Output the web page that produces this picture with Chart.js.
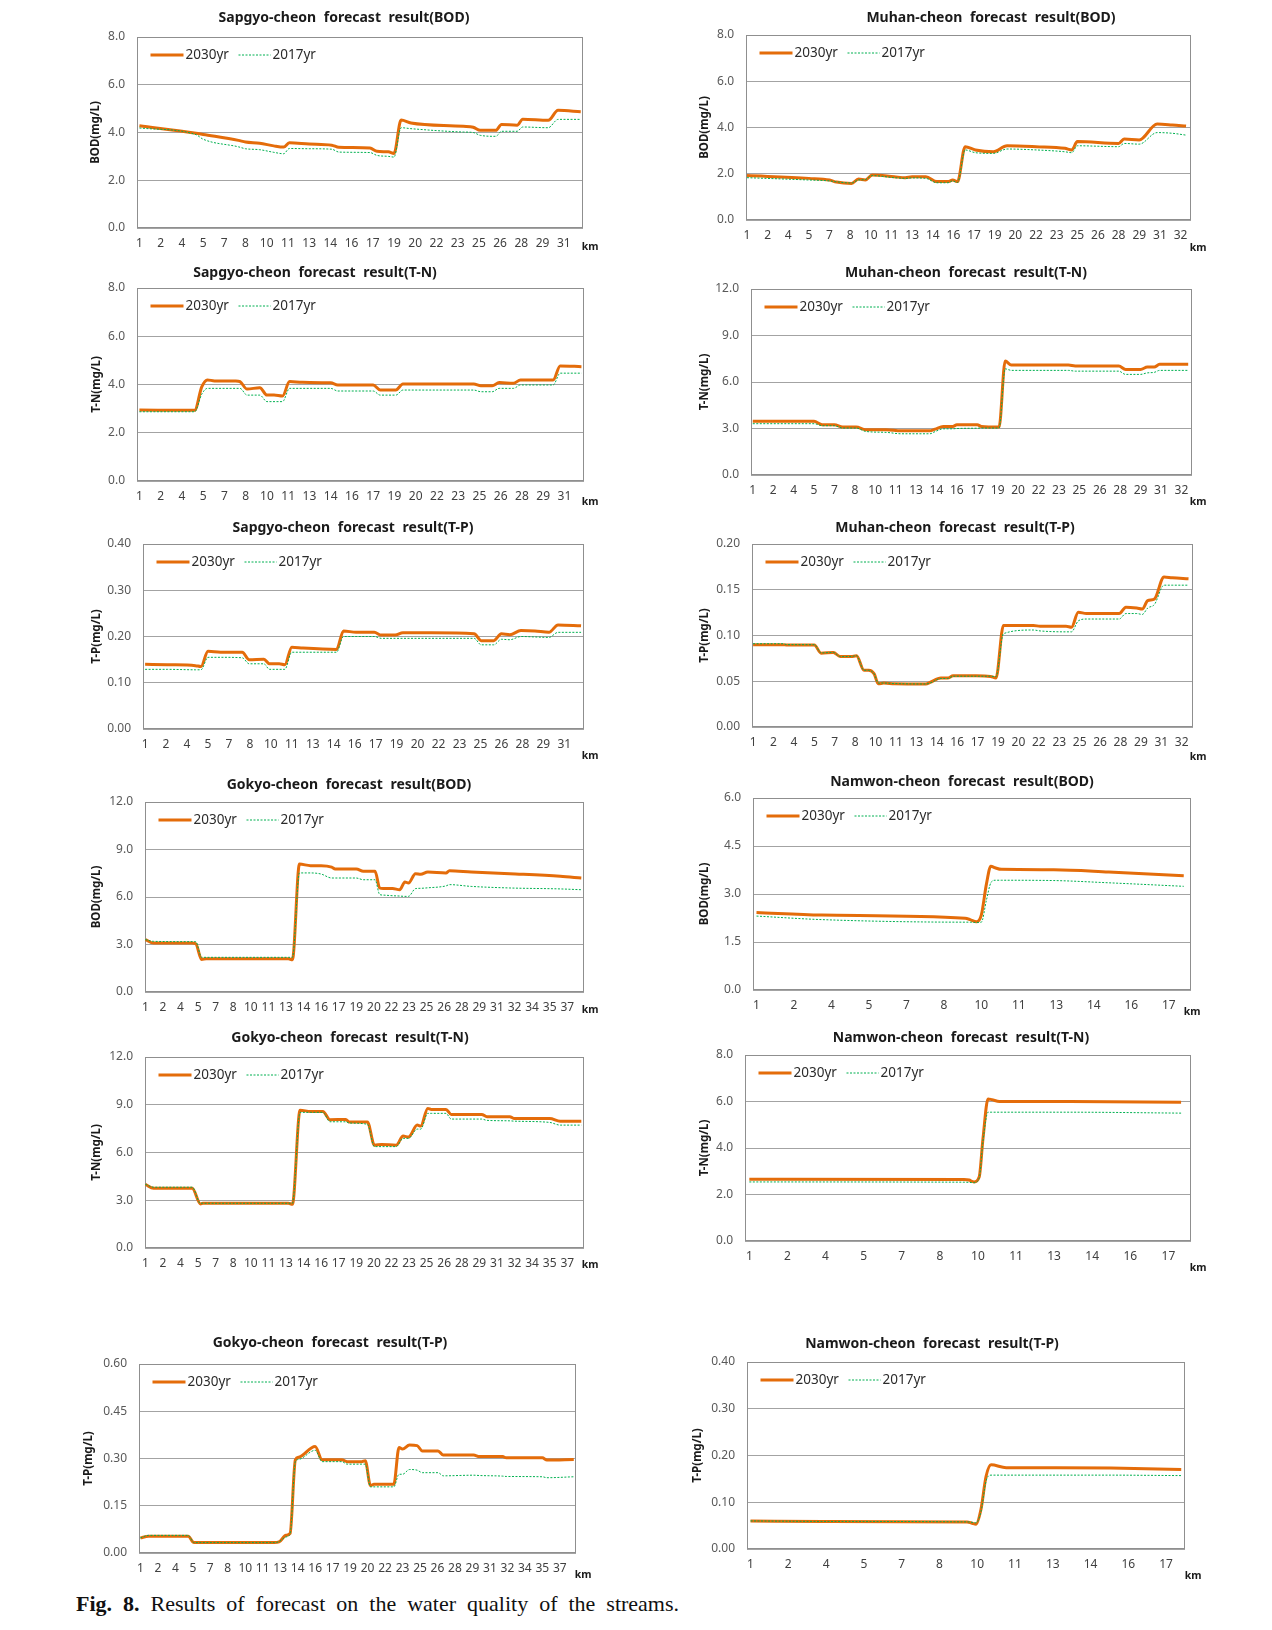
<!DOCTYPE html>
<html><head><meta charset="utf-8">
<script src="https://cdn.jsdelivr.net/npm/chart.js@4.4.0/dist/chart.umd.min.js"></script>
<style>
html,body{margin:0;padding:0;background:#fff;}
#page{position:relative;width:1272px;height:1630px;overflow:hidden;background:#fff;}
#page canvas{position:absolute;}
#caption{position:absolute;left:76px;top:1592px;line-height:24px;font-family:"Liberation Serif","Times New Roman",serif;font-size:22px;color:#111;white-space:nowrap;}
</style></head>
<body><div id="page"><div id="caption"><b>Fig. 8.</b> Results of forecast on the water quality of the streams.</div></div>
<script>
// ---------- tick labels (km) ----------
const xTicksSapgyo = ['1','2','4','5','7','8','10','11','13','14','16','17','19','20','22','23','25','26','28','29','31'];
const xTicksMuhan  = ['1','2','4','5','7','8','10','11','13','14','16','17','19','20','22','23','25','26','28','29','31','32'];
const xTicksGokyo  = ['1','2','4','5','7','8','10','11','13','14','16','17','19','20','22','23','25','26','28','29','31','32','34','35','37'];
const xTicksNamwon = ['1','2','4','5','7','8','10','11','13','14','16','17'];
const seriesNames = ['2030yr','2017yr'];

// ---------- Sapgyo-cheon ----------
const sapBodKm   = [1,5,5.5,8,8.5,9.5,10.5,11.2,11.6,13,14.6,15.1,17.3,17.8,18.6,19,19.5,20.2,23.9,24.6,25.1,26.2,26.6,27.7,28.1,29.9,30.6,32.2];
const sapBod2030 = [4.28,3.97,3.92,3.67,3.60,3.55,3.44,3.39,3.57,3.52,3.47,3.38,3.35,3.21,3.19,3.12,4.52,4.40,4.26,4.22,4.09,4.09,4.34,4.30,4.56,4.51,4.93,4.87];
const sapBod2017 = [4.19,3.91,3.72,3.40,3.32,3.28,3.17,3.11,3.33,3.32,3.30,3.18,3.16,3.04,3.00,2.97,4.20,4.16,4.02,4.00,3.88,3.84,4.05,4.05,4.23,4.20,4.55,4.55];

const sapTnKm    = [1,4.9,5.4,5.8,6.3,7.8,8.1,8.6,9.5,10.0,10.5,11.1,11.6,12.5,14.5,15.0,17.5,18.0,19.1,19.6,24.6,25.1,25.9,26.4,27.4,27.9,30.2,30.7,32.2];
const sapTn2030  = [2.94,2.93,3.9,4.19,4.15,4.15,4.12,3.81,3.87,3.56,3.56,3.52,4.12,4.09,4.07,3.98,3.98,3.77,3.77,4.02,4.02,3.95,3.95,4.08,4.05,4.19,4.19,4.77,4.74];
const sapTn2017  = [2.87,2.87,3.6,3.84,3.84,3.84,3.84,3.56,3.56,3.29,3.29,3.29,3.84,3.84,3.84,3.73,3.73,3.56,3.56,3.77,3.77,3.70,3.70,3.84,3.84,3.98,3.98,4.47,4.47];

const sapTpKm    = [1,2.6,4.6,5.0,5.5,6.4,7.95,8.45,9.5,9.9,10.6,11.0,11.5,12.3,14.7,15.2,16.1,17.4,17.9,18.9,19.45,21.5,24.55,25.05,25.95,26.5,27.1,27.9,28.9,29.9,30.55,32.2];
const sapTp2030  = [.140,.139,.137,.135,.168,.166,.166,.150,.151,.141,.141,.139,.177,.175,.172,.212,.209,.209,.203,.203,.208,.208,.206,.191,.191,.206,.204,.213,.212,.209,.225,.223];
const sapTp2017  = [.129,.129,.128,.128,.155,.155,.154,.141,.141,.129,.129,.129,.166,.166,.166,.200,.200,.200,.196,.196,.196,.196,.196,.182,.182,.194,.193,.200,.199,.198,.209,.209];

// ---------- Muhan-cheon ----------
const muhBodKm   = [1,5.5,7,7.5,8.6,9.1,9.6,10.1,11.7,12.5,13,14,14.8,15.6,15.95,16.3,16.85,17.6,18.9,19.9,22,24.1,24.6,25,28,28.4,29.5,30.8,31.9,32.9];
const muhBod2030 = [1.92,1.80,1.73,1.64,1.58,1.77,1.73,1.95,1.87,1.83,1.87,1.87,1.66,1.66,1.73,1.66,3.17,3.03,2.95,3.21,3.17,3.10,3.03,3.39,3.31,3.50,3.46,4.15,4.11,4.06];
const muhBod2017 = [1.83,1.73,1.69,1.65,1.60,1.73,1.75,1.92,1.83,1.80,1.82,1.80,1.61,1.61,1.69,1.62,3.03,2.91,2.88,3.07,3.03,2.95,2.91,3.21,3.17,3.31,3.28,3.78,3.75,3.67];

const muhTnKm    = [1,5.5,6.1,7.0,7.6,8.6,9.3,10.8,11.9,14.0,14.4,15.0,15.7,16.0,17.5,17.8,19.1,19.55,20.0,24.2,24.7,27.9,28.4,29.5,30.0,30.5,30.9,33];
const muhTn2030  = [3.46,3.46,3.24,3.24,3.09,3.09,2.92,2.92,2.85,2.85,2.96,3.13,3.13,3.24,3.24,3.13,3.09,7.35,7.09,7.09,7.03,7.03,6.81,6.81,6.96,6.96,7.14,7.14];
const muhTn2017  = [3.31,3.31,3.18,3.18,3.03,3.03,2.81,2.75,2.66,2.66,2.80,2.98,2.98,3.00,3.02,3.03,3.03,6.85,6.75,6.75,6.70,6.70,6.49,6.49,6.59,6.62,6.75,6.75];

const muhTpKm    = [1,3.2,3.5,5.5,6.0,6.9,7.4,8.2,8.6,9.15,9.5,9.9,10.2,10.6,11.4,13.7,14.0,14.8,15.3,15.7,17.4,18.45,18.85,19.4,21.6,22.1,24.0,24.4,24.9,25.5,27.9,28.4,29.2,29.6,30.0,30.5,31.2,31.8,33];
const muhTp2030  = [.090,.090,.0895,.0895,.0807,.0815,.077,.077,.0778,.062,.062,.058,.0473,.048,.0473,.047,.0487,.0535,.0535,.056,.056,.0553,.0535,.111,.111,.110,.110,.109,.1255,.124,.124,.131,.130,.129,.138,.140,.164,.163,.162];
const muhTp2017  = [.091,.091,.090,.090,.081,.0815,.077,.077,.078,.062,.062,.058,.048,.048,.0475,.047,.048,.053,.053,.0555,.0555,.0555,.055,.102,.106,.105,.104,.104,.116,.118,.118,.124,.124,.123,.130,.134,.155,.155,.155];

// ---------- Gokyo-cheon ----------
const gokBodKm   = [1,1.7,5.0,5.3,5.8,6.2,13.2,13.55,14.15,15.1,16.0,16.9,17.2,19.0,19.6,20.6,21.0,21.3,22.1,22.7,23.15,23.45,24.05,24.5,25.1,26.65,26.95,28.8,32.1,36.4,38.2];
const gokBod2030 = [3.31,3.09,3.09,3.05,2.06,2.1,2.1,2.04,8.08,7.98,7.98,7.89,7.77,7.77,7.62,7.62,6.57,6.53,6.53,6.46,6.95,6.88,7.47,7.43,7.58,7.52,7.66,7.58,7.47,7.31,7.2];
const gokBod2017 = [3.31,3.2,3.18,3.18,2.19,2.19,2.19,2.19,7.52,7.52,7.45,7.2,7.2,7.2,7.09,7.09,6.15,6.12,6.08,6.06,6.04,6.04,6.53,6.55,6.58,6.7,6.78,6.67,6.57,6.51,6.46];

const gokTnKm    = [1,1.7,5.0,5.7,5.9,13.2,13.55,14.2,15.1,16.15,16.75,18.1,18.4,19.95,20.55,21.15,22.4,23.0,23.45,24.2,24.5,25.1,25.4,26.65,27.1,29.7,30.15,32.1,32.45,35.5,36.4,38.2];
const gokTn2030  = [4.0,3.75,3.75,2.77,2.81,2.81,2.75,8.65,8.58,8.58,8.06,8.08,7.92,7.92,6.46,6.5,6.46,7.03,6.97,7.72,7.66,8.77,8.7,8.7,8.39,8.39,8.25,8.25,8.14,8.14,7.97,7.97];
const gokTn2017  = [4.0,3.82,3.82,2.81,2.81,2.81,2.81,8.52,8.52,8.52,7.93,7.93,7.85,7.77,6.37,6.37,6.37,6.89,6.89,7.47,7.47,8.46,8.46,8.46,8.1,8.1,8.02,7.99,7.97,7.89,7.72,7.72];

const gokTpKm    = [1,1.7,5.1,5.6,12.5,12.9,13.5,13.85,14.3,14.6,16.0,16.6,18.3,18.75,20.0,20.3,20.75,21.05,22.75,23.2,23.5,24.1,24.75,25.2,26.55,27.0,29.6,30.1,32.1,32.4,35.5,35.9,38.2];
const gokTp2030  = [.048,.053,.053,.033,.033,.035,.056,.062,.296,.304,.338,.296,.296,.290,.290,.293,.214,.218,.218,.335,.330,.343,.341,.324,.324,.311,.311,.306,.306,.302,.302,.295,.297];
const gokTp2017  = [.048,.056,.056,.033,.033,.036,.051,.060,.290,.297,.326,.290,.290,.282,.282,.282,.210,.210,.210,.250,.250,.265,.263,.255,.255,.245,.247,.246,.244,.243,.242,.239,.242];

// ---------- Namwon-cheon ----------
const namBodKm   = [1,3.6,9.35,9.55,9.8,10.0,10.2,10.38,10.55,10.8,12.9,15.1,18.1];
const namBod2030 = [2.42,2.34,2.24,2.20,2.13,2.35,3.3,3.87,3.82,3.77,3.76,3.69,3.57];
const namBod2017 = [2.31,2.20,2.12,2.12,2.11,2.12,2.8,3.35,3.43,3.43,3.42,3.35,3.24];

const namTnKm    = [1,9.45,9.65,9.85,10.05,10.2,10.4,10.55,10.85,13.6,18.0];
const namTn2030  = [2.66,2.64,2.62,2.54,2.75,4.4,6.11,6.08,6.0,6.0,5.97];
const namTn2017  = [2.54,2.53,2.52,2.51,2.7,4.3,5.54,5.54,5.54,5.54,5.5];

const namTpKm    = [1,3.9,9.6,9.8,9.95,10.15,10.35,10.55,11.15,13.15,15.3,18.1];
const namTp2030  = [.060,.059,.058,.055,.053,.085,.155,.180,.174,.174,.173,.170];
const namTp2017  = [.060,.059,.058,.057,.056,.080,.145,.158,.158,.158,.158,.157];

// ---------- panel definitions (layout only) ----------
const panels = [
 {title:'Sapgyo-cheon forecast result(BOD)', yTitle:'BOD(mg/L)', km:sapBodKm, a:sapBod2030, b:sapBod2017, xl:xTicksSapgyo, xMin:0.83, xMax:32.36, yMax:8, yStep:2, dec:1, r:[137,583,37,228], tx:344, ty:18, yx:96, kdx:7, kdy:19},
 {title:'Muhan-cheon forecast result(BOD)', yTitle:'BOD(mg/L)', km:muhBodKm, a:muhBod2030, b:muhBod2017, xl:xTicksMuhan, xMin:0.93, xMax:33.26, yMax:8, yStep:2, dec:1, r:[746,1191,35,220], tx:991, ty:18, yx:705, kdx:7, kdy:28},
 {title:'Sapgyo-cheon forecast result(T-N)', yTitle:'T-N(mg/L)', km:sapTnKm, a:sapTn2030, b:sapTn2017, xl:xTicksSapgyo, xMin:0.83, xMax:32.38, yMax:8, yStep:2, dec:1, r:[137,584,288,481], tx:315, ty:273, yx:97, kdx:6, kdy:21},
 {title:'Muhan-cheon forecast result(T-N)', yTitle:'T-N(mg/L)', km:muhTnKm, a:muhTn2030, b:muhTn2017, xl:xTicksMuhan, xMin:0.87, xMax:33.28, yMax:12, yStep:3, dec:1, r:[751,1192,289,475], tx:966, ty:273, yx:705, kdx:6, kdy:27},
 {title:'Sapgyo-cheon forecast result(T-P)', yTitle:'T-P(mg/L)', km:sapTpKm, a:sapTp2030, b:sapTp2017, xl:xTicksSapgyo, xMin:0.85, xMax:32.41, yMax:0.4, yStep:0.1, dec:2, r:[143,584,544,729], tx:353, ty:528, yx:97, kdx:6, kdy:27},
 {title:'Muhan-cheon forecast result(T-P)', yTitle:'T-P(mg/L)', km:muhTpKm, a:muhTp2030, b:muhTp2017, xl:xTicksMuhan, xMin:0.92, xMax:33.33, yMax:0.2, yStep:0.05, dec:2, r:[752,1193,544,727], tx:955, ty:528, yx:705, kdx:5, kdy:30},
 {title:'Gokyo-cheon forecast result(BOD)', yTitle:'BOD(mg/L)', km:gokBodKm, a:gokBod2030, b:gokBod2017, xl:xTicksGokyo, xMin:0.97, xMax:38.43, yMax:12, yStep:3, dec:1, r:[145,584,802,992], tx:349, ty:785, yx:97, kdx:6, kdy:18},
 {title:'Namwon-cheon forecast result(BOD)', yTitle:'BOD(mg/L)', km:namBodKm, a:namBod2030, b:namBod2017, xl:xTicksNamwon, xMin:0.86, xMax:18.39, yMax:6, yStep:1.5, dec:1, r:[753,1191,798,990], tx:962, ty:782, yx:705, kdx:1, kdy:22},
 {title:'Gokyo-cheon forecast result(T-N)', yTitle:'T-N(mg/L)', km:gokTnKm, a:gokTn2030, b:gokTn2017, xl:xTicksGokyo, xMin:0.97, xMax:38.43, yMax:12, yStep:3, dec:1, r:[145,584,1057,1248], tx:350, ty:1038, yx:97, kdx:6, kdy:17},
 {title:'Namwon-cheon forecast result(T-N)', yTitle:'T-N(mg/L)', km:namTnKm, a:namTn2030, b:namTn2017, xl:xTicksNamwon, xMin:0.83, xMax:18.39, yMax:8, yStep:2, dec:1, r:[745,1191,1055,1241], tx:961, ty:1038, yx:705, kdx:7, kdy:27},
 {title:'Gokyo-cheon forecast result(T-P)', yTitle:'T-P(mg/L)', km:gokTpKm, a:gokTp2030, b:gokTp2017, xl:xTicksGokyo, xMin:0.88, xMax:38.39, yMax:0.6, yStep:0.15, dec:2, r:[139,576,1364,1553], tx:330, ty:1343, yx:89, kdx:7, kdy:22},
 {title:'Namwon-cheon forecast result(T-P)', yTitle:'T-P(mg/L)', km:namTpKm, a:namTp2030, b:namTp2017, xl:xTicksNamwon, xMin:0.86, xMax:18.25, yMax:0.4, yStep:0.1, dec:2, r:[747,1185,1362,1549], tx:932, ty:1344, yx:698, kdx:8, kdy:27}
];

const ORANGE = '#E46C0A', GREEN = '#00B050';
const FONT = '"Noto Sans", "DejaVu Sans", sans-serif';
Chart.defaults.font.family = FONT;

const decor = {
  id: 'decor',
  beforeDatasetsDraw(chart, args, o) {
    const ctx = chart.ctx, a = chart.chartArea;
    ctx.save();
    ctx.strokeStyle = '#8f8f8f'; ctx.lineWidth = 1;
    ctx.strokeRect(Math.round(a.left) + 0.5, Math.round(a.top) + 0.5, Math.round(a.right - a.left) - 1, Math.round(a.bottom - a.top) - 1);
    ctx.restore();
  },
  afterDraw(chart, args, o) {
    const ctx = chart.ctx, a = chart.chartArea;
    ctx.save();
    ctx.textAlign = 'center'; ctx.textBaseline = 'middle';
    ctx.fillStyle = '#1a1a1a';
    ctx.font = 'bold 14px ' + FONT;
    try { ctx.wordSpacing = '4px'; } catch (e) {}
    ctx.fillText(o.title, o.tx, o.ty);
    try { ctx.wordSpacing = '0px'; } catch (e) {}
    ctx.save();
    ctx.translate(o.yx, (a.top + a.bottom) / 2);
    ctx.rotate(-Math.PI / 2);
    ctx.font = 'bold 11.5px ' + FONT;
    ctx.fillText(o.yTitle, 0, 0);
    ctx.restore();
    ctx.font = 'bold 10.5px ' + FONT;
    ctx.fillText('km', a.right + o.kdx, a.bottom + o.kdy);
    const ds = chart.data.datasets;
    const lx = a.left + 13.5, ly = a.top + 18;
    ctx.textAlign = 'left';
    ctx.font = '13.5px ' + FONT;
    ctx.fillStyle = '#2b2b2b';
    ctx.lineCap = 'butt';
    ctx.strokeStyle = ds[0].borderColor; ctx.lineWidth = 3; ctx.setLineDash([]);
    ctx.beginPath(); ctx.moveTo(lx, ly); ctx.lineTo(lx + 33, ly); ctx.stroke();
    ctx.fillText(ds[0].label, lx + 35, ly);
    ctx.strokeStyle = ds[1].borderColor; ctx.lineWidth = 1; ctx.setLineDash(ds[1].borderDash);
    ctx.beginPath(); ctx.moveTo(lx + 88, ly); ctx.lineTo(lx + 120, ly); ctx.stroke();
    ctx.setLineDash([]);
    ctx.fillText(ds[1].label, lx + 122, ly);
    ctx.restore();
  }
};

const page = document.getElementById('page');
const YW = 50, XH = 30, PADL = 80, PADT = 45, PADR = 45, PADB = 50;

panels.forEach(p => {
  const [L, R, T, B] = p.r;
  const bx = L - PADL, by = T - PADT, bw = (R - L) + PADL + PADR, bh = (B - T) + PADT + PADB;
  const cv = document.createElement('canvas');
  cv.width = bw; cv.height = bh;
  cv.style.left = bx + 'px'; cv.style.top = by + 'px';
  cv.style.width = bw + 'px'; cv.style.height = bh + 'px';
  page.appendChild(cv);
  const labels = p.xl;
  new Chart(cv, {
    type: 'line',
    data: {
      datasets: [
        { label: seriesNames[0], data: p.km.map((k, i) => ({ x: k, y: p.a[i] })), borderColor: ORANGE, borderWidth: 3, pointRadius: 0, cubicInterpolationMode: 'monotone', fill: false, order: 1 },
        { label: seriesNames[1], data: p.km.map((k, i) => ({ x: k, y: p.b[i] })), borderColor: GREEN, borderWidth: 1, borderDash: [2, 1.5], pointRadius: 0, cubicInterpolationMode: 'monotone', fill: false, order: 0 }
      ]
    },
    options: {
      responsive: false, animation: false, devicePixelRatio: 1, events: [],
      layout: { autoPadding: false, padding: { left: PADL - YW, top: PADT, right: PADR, bottom: PADB - XH } },
      scales: {
        x: {
          type: 'linear', min: p.xMin, max: p.xMax,
          afterBuildTicks: s => { s.ticks = labels.map((_, i) => ({ value: 1 + 1.5 * i })); },
          afterFit: s => { s.height = XH; },
          grid: { display: false, drawTicks: false },
          border: { display: false },
          ticks: { callback: (v, i) => labels[i], autoSkip: false, maxRotation: 0, minRotation: 0, padding: 8, color: '#404040', font: { size: 12 } }
        },
        y: {
          type: 'linear', min: 0, max: p.yMax,
          afterBuildTicks: s => { const n = Math.round(p.yMax / p.yStep); s.ticks = Array.from({ length: n + 1 }, (_, i) => ({ value: i * p.yStep })); },
          afterFit: s => { s.width = YW; },
          grid: { color: '#a3a3a3', lineWidth: 1, drawTicks: false },
          border: { display: false },
          ticks: { callback: v => Number(v).toFixed(p.dec), padding: 12, color: '#595959', font: { size: 12 } }
        }
      },
      plugins: {
        legend: { display: false }, tooltip: { enabled: false },
        decor: { title: p.title, yTitle: p.yTitle, tx: p.tx - bx, ty: p.ty - by, yx: p.yx - bx, kdx: p.kdx, kdy: p.kdy }
      }
    },
    plugins: [decor]
  });
});

const cap = document.getElementById('caption');
const cw = cap.getBoundingClientRect().width;
cap.style.wordSpacing = ((603 - cw) / 11).toFixed(2) + 'px';
</script>
</body></html>
